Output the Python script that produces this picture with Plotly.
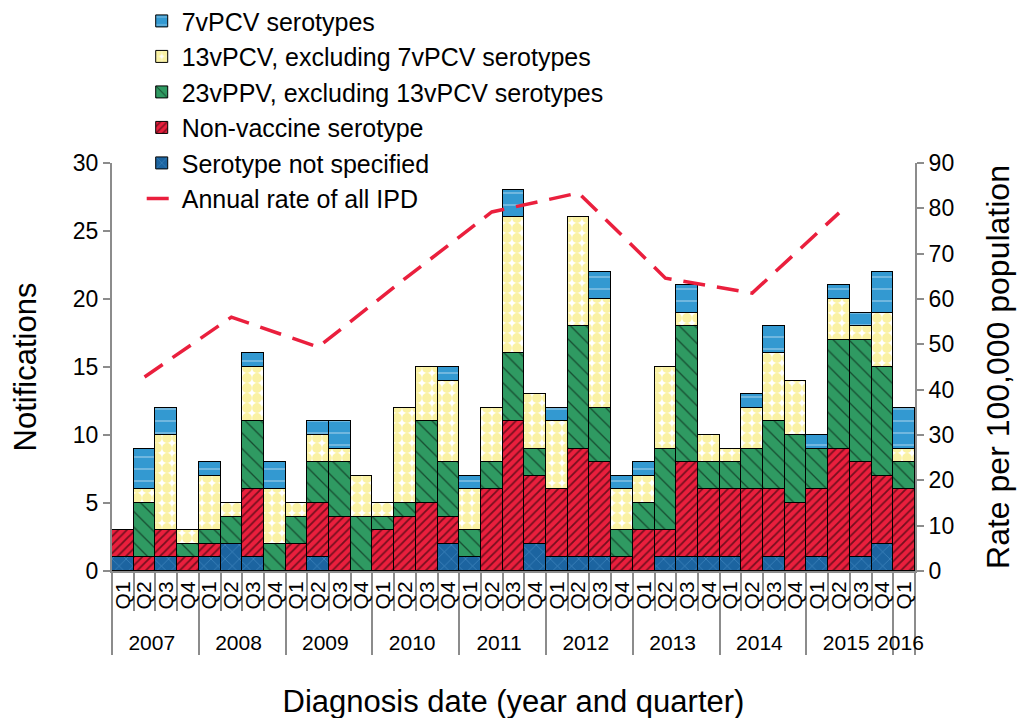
import plotly.graph_objects as go

# ---- data ----
year_labels = ["2007", "2008", "2009", "2010", "2011", "2012", "2013", "2014", "2015", "2016"]
quarter_labels = ["Q1", "Q2", "Q3", "Q4"]
quarters_in_year = [4, 4, 4, 4, 4, 4, 4, 4, 4, 1]

not_specified = [1, 0, 1, 0, 1, 2, 1, 0, 0, 1, 0, 0, 0, 0, 0, 2, 1, 0, 0, 2,
                 1, 1, 1, 0, 0, 1, 1, 1, 1, 0, 1, 0, 1, 0, 1, 2, 0]
non_vaccine = [2, 1, 2, 1, 1, 0, 5, 0, 2, 4, 4, 0, 3, 4, 5, 2, 0, 6, 11, 5,
               5, 8, 7, 1, 3, 2, 7, 5, 5, 6, 5, 5, 5, 9, 7, 5, 6]
ppv23_excl = [0, 4, 0, 1, 1, 2, 5, 2, 2, 3, 4, 4, 1, 1, 6, 4, 2, 2, 5, 2,
              0, 9, 4, 2, 2, 6, 10, 2, 2, 3, 5, 5, 3, 8, 9, 8, 2]
pcv13_excl = [0, 1, 7, 1, 4, 1, 4, 4, 1, 2, 1, 3, 1, 7, 4, 6, 3, 4, 10, 4,
              5, 8, 8, 3, 2, 6, 1, 2, 1, 3, 5, 4, 0, 3, 1, 4, 1]
pcv7 = [0, 3, 2, 0, 1, 0, 1, 2, 0, 1, 2, 0, 0, 0, 0, 1, 1, 0, 2, 0,
        1, 0, 2, 1, 1, 0, 2, 0, 0, 1, 2, 0, 1, 1, 1, 3, 3]

rate_years = ["2007", "2008", "2009", "2010", "2011", "2012", "2013", "2014", "2015"]
rate_quarter = "Q2"
annual_rate = [42.8, 56.0, 49.4, 64.5, 79.2, 83.4, 64.6, 61.3, 79.0]

# ---- build multicategory x ----
x_years, x_quarters = [], []
for y, n in zip(year_labels, quarters_in_year):
    for q in quarter_labels[:n]:
        x_years.append(y)
        x_quarters.append(q)
x_multi = [x_years, x_quarters]

FONT = "Liberation Sans, Arial, sans-serif"
GRAY = "#8c8c8c"

fig = go.Figure()

series = [
    ("Serotype not specified", not_specified, dict(shape="x", bgcolor="#1c64a0", fgcolor="#6fb2e6", size=10, solidity=0.12), 5),
    ("Non-vaccine serotype", non_vaccine, dict(shape="/", bgcolor="#ea1f3d", fgcolor="black", size=6, solidity=0.3), 4),
    ("23vPPV, excluding 13vPCV serotypes", ppv23_excl, dict(shape="\\", bgcolor="#2f9a62", fgcolor="black", size=11, solidity=0.12), 3),
    ("13vPCV, excluding 7vPCV serotypes", pcv13_excl, dict(shape=".", bgcolor="white", fgcolor="#f6e54a", size=10, solidity=0.75), 2),
    ("7vPCV serotypes", pcv7, dict(shape="-", bgcolor="#3399d1", fgcolor="white", size=12, solidity=0.1), 1),
]

for name, vals, pat, rank in series:
    fig.add_trace(go.Bar(
        x=x_multi, y=vals, name=name, legendrank=rank, legendgroup=name,
        marker=dict(color=pat["bgcolor"], pattern=pat, line=dict(color="black", width=1)),
    ))

fig.add_trace(go.Scatter(
    x=[rate_years, [rate_quarter] * len(rate_years)], y=annual_rate,
    name="Annual rate of all IPD", yaxis="y2", mode="lines", legendrank=6,
    legendgroup="rate",
    line=dict(color="#ea1f3d", width=3.5, dash="22px,12px"),
))

# page body has an 8px default margin, so the figure is sized to fit the window
fig.update_layout(
    width=1021, height=710,
    margin=dict(l=104, r=114, t=155, b=147, autoexpand=False),
    barmode="stack", bargap=0,
    plot_bgcolor="white", paper_bgcolor="white",
    font=dict(family=FONT, size=23, color="black"),
    legend=dict(x=0.037, y=1.404, xanchor="left", yanchor="top",
                font=dict(size=25), traceorder="normal", tracegroupgap=1,
                bgcolor="rgba(0,0,0,0)", itemwidth=30),
    xaxis=dict(type="multicategory", showline=True, linecolor=GRAY, linewidth=2,
               ticks="outside", ticklen=38, tickcolor=GRAY, tickwidth=2,
               tickmode="linear", tick0=0, dtick=1,
               tickangle=-90, tickfont=dict(size=21),
               showdividers=True, dividercolor=GRAY, dividerwidth=2,
               showgrid=False,
               title=dict(text="Diagnosis date (year and quarter)", font=dict(size=31), standoff=38)),
    yaxis=dict(range=[0, 30], dtick=5, showline=True, linecolor=GRAY, linewidth=2,
               ticks="outside", ticklen=7, tickcolor=GRAY, tickwidth=2,
               showgrid=False, zeroline=False, tickfont=dict(size=23),
               title=dict(text="Notifications", font=dict(size=31), standoff=49)),
    yaxis2=dict(range=[0, 90], dtick=10, overlaying="y", side="right",
                showline=True, linecolor=GRAY, linewidth=2,
                ticks="outside", ticklen=7, tickcolor=GRAY, tickwidth=2,
                showgrid=False, zeroline=False, tickfont=dict(size=23),
                title=dict(text="Rate per 100,000 population", font=dict(size=32), standoff=33)),
)

fig.write_html("out.html")
